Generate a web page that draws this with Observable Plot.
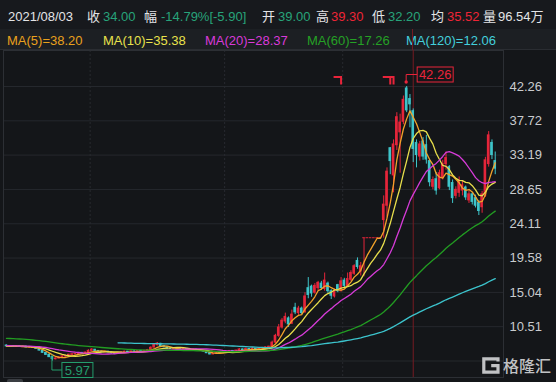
<!DOCTYPE html>
<html><head><meta charset="utf-8">
<script src="https://cdn.jsdelivr.net/npm/d3@7"></script>
<script src="https://cdn.jsdelivr.net/npm/@observablehq/plot@0.6"></script>
<style>
html,body{margin:0;padding:0;background:#141619;}
#wrap{position:relative;width:556px;height:382px;overflow:hidden;font-family:"Liberation Sans","Noto Sans CJK SC",sans-serif;background:#141619;}
#row1{position:absolute;left:0;top:0;width:556px;height:29px;background:#17191d;}
#row2{position:absolute;left:0;top:29px;width:556px;height:20px;background:#1c1f23;border-bottom:1px solid #2a2d32;}
.t{position:absolute;font-size:13px;line-height:17px;white-space:nowrap;color:#e3e4e6;}
#row1 .t{top:8px;}
#row2 .t{top:3px;}
#chart{position:absolute;left:0;top:50px;}
#chart svg{display:block;}
#wm{position:absolute;left:482px;top:356px;height:18px;display:flex;align-items:center;opacity:0.9;}
#wm span{font-family:"Noto Sans CJK SC",sans-serif;font-size:16px;color:#d4d5d7;margin-left:3px;line-height:18px;font-weight:500;}
#thumb{position:absolute;left:7px;top:379px;width:16px;height:5px;border-radius:2px;background:#3a3d42;}
#xhair{position:absolute;top:29px;width:1px;height:21px;background:#761b22;}
</style></head>
<body>
<div id="wrap">
  <div id="row1">
    <span class="t" style="left:8px">2021/08/03</span>
    <span class="t" style="left:87px">收</span><span class="t" style="left:103px;color:#27a37a">34.00</span>
    <span class="t" style="left:144px">幅</span><span class="t" style="left:161px;color:#27a37a">-14.79%[-5.90]</span>
    <span class="t" style="left:262px">开</span><span class="t" style="left:278px;color:#27a37a">39.00</span>
    <span class="t" style="left:316px">高</span><span class="t" style="left:331px;color:#ee2536">39.30</span>
    <span class="t" style="left:372px">低</span><span class="t" style="left:388px;color:#27a37a">32.20</span>
    <span class="t" style="left:431px">均</span><span class="t" style="left:447px;color:#ee2536">35.52</span>
    <span class="t" style="left:483px">量</span><span class="t" style="left:498px">96.54万</span>
  </div>
  <div id="row2"></div>
  <div id="chart"></div>
  <div id="thumb"></div>
  <div id="wm">
    <svg width="18" height="17" viewBox="0 0 18 17"><path d="M16 4.5V1.8H1.8V15.2H16V8.6H9.2" fill="none" stroke="#d4d5d7" stroke-width="3.2"/></svg>
    <span>格隆汇</span>
  </div>
</div>
<script>
// ---- data ----
const priorCloses = [
  8.6,8.5,8.7,8.8,8.6,8.4,8.5,8.3,8.4,8.6,8.5,8.7,8.6,8.8,8.7,8.5,8.6,8.4,8.5,8.6,8.7,8.5,8.4,8.6,8.8,8.9,
  9.0,9.2,9.1,9.4,9.6,9.5,9.8,10.0,9.9,10.2,10.1,9.9,10.3,10.2,10.0,9.8,10.1,9.9,9.7,9.8,9.6,9.5,9.7,9.4,9.6,9.3,9.5,9.2,9.4,9.1,9.2,8.9,9.0,8.8,8.9,8.7,8.6,8.7,8.5,8.4,8.3,
  8.2,8.1,8.2,8.0,8.1,7.9,8.0,8.1,7.9,8.0,7.8,7.9,8.0,7.9,8.1,8.0,7.9,8.0
];
const opens = [
  8.02,7.88,7.95,7.85,7.92,7.80,7.86,7.74,7.82,7.72,
  7.58,7.32,7.05,6.80,6.50,6.20,6.30,6.44,6.56,6.64,
  6.78,6.88,6.90,7.04,6.96,7.06,7.30,7.46,7.30,7.22,
  7.12,7.20,7.12,7.00,6.92,7.02,7.08,7.20,7.14,7.24,
  7.18,7.30,7.22,7.30,7.42,7.74,8.05,8.24,7.92,7.80,
  7.62,7.54,7.62,7.54,7.46,7.56,7.50,7.40,7.46,7.38,
  7.30,7.22,7.00,6.84,6.90,7.00,7.10,7.14,7.20,7.30,
  7.24,7.34,7.50,7.42,7.56,7.48,7.58,7.52,7.60,7.68,
  7.76,7.90,8.40,9.30,10.40,11.20,11.60,10.90,13.00,12.30,
  12.90,12.40,15.60,15.80,15.00,15.60,16.20,15.50,16.20,15.20,
  14.50,16.00,15.20,16.60,15.90,16.70,17.50,19.20,17.80,22.20,
  22.20,22.20,22.20,22.20,22.20,24.60,26.50,34.10,30.50,34.50,
  36.20,37.60,42.00,40.60,39.00,34.80,33.00,35.00,34.50,32.40,
  29.00,30.00,28.80,30.20,32.00,31.60,29.50,27.80,28.20,28.50,
  28.90,27.20,28.00,27.50,26.90,26.30,27.80,32.00,34.80,32.40
];
const highs = [
  8.08,8.02,7.98,7.98,7.95,7.92,7.90,7.86,7.85,7.76,
  7.62,7.38,7.10,6.85,6.55,6.40,6.52,6.65,6.75,6.86,
  6.95,7.00,7.08,7.10,7.15,7.45,7.62,7.50,7.34,7.26,
  7.28,7.24,7.15,7.04,7.10,7.16,7.26,7.24,7.30,7.28,
  7.36,7.34,7.38,7.50,7.85,8.25,8.42,8.30,7.98,7.84,
  7.68,7.70,7.66,7.58,7.62,7.60,7.54,7.52,7.50,7.42,
  7.34,7.25,7.04,6.98,7.06,7.16,7.22,7.26,7.36,7.34,
  7.40,7.62,7.56,7.70,7.62,7.72,7.62,7.68,7.76,7.84,
  7.92,8.60,9.50,10.80,11.60,12.30,11.80,12.70,13.60,13.20,
  13.10,15.00,17.00,16.00,16.20,16.50,16.50,17.60,16.40,15.40,
  15.50,16.10,17.00,16.90,17.60,17.90,18.70,19.60,19.00,22.20,
  22.20,22.20,22.20,22.20,22.20,27.80,31.50,34.20,35.20,38.80,
  38.60,41.00,42.26,41.20,39.30,35.20,35.00,35.50,35.80,32.60,
  30.30,30.90,31.20,32.50,33.60,31.80,29.90,29.00,30.30,29.80,
  29.10,28.40,28.20,27.90,27.20,28.40,32.90,36.30,35.20,33.60
];
const lows = [
  7.85,7.84,7.80,7.82,7.78,7.76,7.72,7.70,7.66,7.52,
  7.30,7.00,6.72,6.42,5.97,6.12,6.25,6.38,6.50,6.60,
  6.74,6.82,6.86,6.90,6.92,7.02,7.25,7.24,7.15,7.08,
  7.08,7.05,6.90,6.82,6.88,6.98,7.04,7.08,7.10,7.12,
  7.14,7.18,7.18,7.26,7.38,7.70,7.98,7.86,7.72,7.55,
  7.50,7.50,7.46,7.40,7.42,7.44,7.35,7.36,7.30,7.24,
  7.16,6.95,6.78,6.80,6.86,6.96,7.04,7.10,7.16,7.18,
  7.20,7.30,7.36,7.38,7.42,7.44,7.46,7.48,7.56,7.64,
  7.72,7.85,8.30,9.10,10.20,10.90,10.40,10.80,12.10,12.00,
  12.10,12.30,14.20,14.40,14.80,15.20,15.30,15.20,14.90,14.10,
  14.30,15.00,15.10,15.60,15.70,16.50,17.30,18.10,17.20,17.10,
  22.20,22.20,22.20,22.20,22.20,22.20,25.00,30.60,28.20,33.80,
  30.80,37.20,38.80,36.80,32.20,31.50,32.40,32.50,32.00,29.00,
  28.60,27.90,28.60,29.90,31.20,28.50,26.80,27.40,27.60,27.80,
  27.20,26.80,26.60,26.20,25.20,25.50,27.60,31.60,32.60,30.60
];
const closes = [
  7.90,7.96,7.86,7.92,7.82,7.86,7.76,7.80,7.70,7.58,
  7.35,7.05,6.78,6.48,6.22,6.30,6.45,6.58,6.62,6.80,
  6.86,6.92,7.02,6.96,7.08,7.32,7.48,7.30,7.22,7.14,
  7.20,7.12,6.98,6.92,7.04,7.10,7.20,7.14,7.24,7.18,
  7.30,7.24,7.32,7.42,7.72,8.10,8.28,7.92,7.80,7.62,
  7.56,7.64,7.52,7.46,7.56,7.50,7.40,7.46,7.36,7.30,
  7.22,7.00,6.84,6.90,7.00,7.10,7.16,7.20,7.30,7.24,
  7.34,7.50,7.42,7.56,7.48,7.58,7.52,7.60,7.70,7.78,
  7.86,8.40,9.30,10.40,11.30,11.80,10.80,12.10,12.40,12.90,
  12.30,14.50,14.70,14.90,15.90,16.30,15.60,16.60,15.20,14.60,
  15.20,15.20,16.50,15.90,16.80,17.60,18.50,18.40,18.50,22.20,
  22.20,22.20,22.20,22.20,22.20,26.64,31.00,32.40,34.60,38.20,
  37.50,40.50,39.10,39.90,34.00,33.20,34.60,33.00,32.60,29.60,
  29.90,28.50,30.80,32.00,32.80,29.00,27.50,28.60,29.80,29.20,
  27.60,28.00,27.00,26.50,25.80,28.00,32.50,35.80,33.20,31.40
];
const maPeriods = [5, 10, 20, 60, 120];
const maLegend = ["MA(5)=38.20", "MA(10)=35.38", "MA(20)=28.37", "MA(60)=17.26", "MA(120)=12.06"];
const yTickLabels = [42.26, 37.72, 33.19, 28.65, 24.11, 19.58, 15.04, 10.51];
const gridValues = [42.26, 37.72, 33.19, 28.65, 24.11, 19.58, 15.04, 10.51, 5.97];
const periodStarts = [26, 67, 103];
const selectedIndex = 124;
const flagIndices = [102, 117, 118];

// ---- styles ----
const UP = "#e5253a", DOWN = "#3ec4c9";
const maColors = ["#f2a22a", "#e8df4c", "#d63bd8", "#229c22", "#3cc4cd"];
const legendColors = ["#e9a11d", "#e9e24c", "#d93ad9", "#25a125", "#43d0dc"];
const legendX = [7, 103, 205, 307, 406];

const row2 = document.getElementById("row2");
maLegend.forEach((t, k) => {
  const s = document.createElement("span");
  s.className = "t"; s.textContent = t;
  s.style.left = legendX[k] + "px"; s.style.color = legendColors[k];
  row2.appendChild(s);
});

const P = priorCloses.length;
const all = priorCloses.concat(closes);
function ma(k, i) { const j = i + P; if (j - k + 1 < 0) return null; return d3.mean(all.slice(j - k + 1, j + 1)); }

const candles = closes.map((c, i) => {
  const o = opens[i], prev = i > 0 ? closes[i - 1] : priorCloses[P - 1];
  return {i, o, h: highs[i], l: lows[i], c, up: c > o || (c === o && c >= prev)};
});
const maRows = closes.map((c, i) => {
  const r = {i};
  maPeriods.forEach(k => r["ma" + k] = ma(k, i));
  return r;
});

const chart = Plot.plot({
  width: 556, height: 332,
  marginLeft: 3, marginRight: 53, marginTop: 0, marginBottom: 5,
  style: {background: "transparent", fontFamily: "Liberation Sans, sans-serif"},
  x: {domain: [-0.915, 151.52], axis: null},
  y: {domain: [5.97, 42.26], range: [310.5, 36], axis: null},
  color: {type: "identity"},
  marks: [
    Plot.ruleY(gridValues, {stroke: "#25282d", strokeWidth: 1}),
    Plot.ruleX(periodStarts, {x: d => d - 0.5, stroke: "#272a2f", strokeDasharray: "2,2"}),
    Plot.frame({stroke: "#2c2f34"}),
    Plot.ruleX([selectedIndex], {stroke: "#761b22", strokeWidth: 1}),
    Plot.ruleX(candles, {x: "i", y1: "l", y2: "h", stroke: d => d.up ? UP : DOWN, strokeWidth: 1}),
    Plot.rect(candles, {x1: d => d.i - 0.4, x2: d => d.i + 0.4, y1: "o", y2: "c",
      fill: d => d.up ? UP : DOWN, insetTop: -0.5, insetBottom: -0.5}),
    ...maPeriods.map((k, n) => Plot.line(maRows, {x: "i", y: "ma" + k, stroke: maColors[n], strokeWidth: 1.3})),
    Plot.axisY(yTickLabels, {anchor: "right", tickSize: 0, tickPadding: 6, label: null,
      tickFormat: d => d.toFixed(2), fontSize: 13, color: "#c9cbce"})
  ]
});
document.getElementById("chart").appendChild(chart);

// ---- annotations positioned with the plot's scales ----
const svg = d3.select(chart);
const sx = chart.scale("x"), sy = chart.scale("y");
const RED = "#e8243a", GREEN = "#249d6c";
const g = svg.append("g").attr("font-family", "Liberation Sans, sans-serif");

// crosshair continues through the MA legend row
const xh = document.createElement("div");
xh.id = "xhair"; xh.style.left = (Math.round(sx.apply(selectedIndex) - 0.5)) + "px";
document.getElementById("wrap").appendChild(xh);

const iMax = d3.maxIndex(highs), vMax = highs[iMax];
{
  const px = sx.apply(iMax), py = sy.apply(vMax);
  g.append("circle").attr("cx", px).attr("cy", py - 4).attr("r", 1.7).attr("fill", RED);
  g.append("path").attr("d", `M${px},${py - 4}V${py - 11.5}H${px + 11}`).attr("stroke", RED).attr("fill", "none");
  g.append("rect").attr("x", px + 11).attr("y", py - 19).attr("width", 36).attr("height", 15)
    .attr("fill", "#141619").attr("stroke", RED);
  g.append("text").attr("x", px + 29).attr("y", py - 11.5).attr("text-anchor", "middle")
    .attr("dominant-baseline", "central").attr("fill", RED).attr("font-size", 13).text(vMax.toFixed(2));
}
const iMin = d3.minIndex(lows), vMin = lows[iMin];
{
  const px = sx.apply(iMin), py = sy.apply(vMin);
  g.append("path").attr("d", `M${px},${py - 6}V${py + 9.5}H${px + 10}`).attr("stroke", GREEN).attr("fill", "none");
  g.append("rect").attr("x", px + 10).attr("y", py + 2).attr("width", 31).attr("height", 15)
    .attr("fill", "#141619").attr("stroke", GREEN);
  g.append("text").attr("x", px + 25.5).attr("y", py + 9.5).attr("text-anchor", "middle")
    .attr("dominant-baseline", "central").attr("fill", GREEN).attr("font-size", 13).text(vMin.toFixed(2));
}
const flagTop = sy.apply(gridValues[0]) - 9;
flagIndices.forEach(i => {
  const px = sx.apply(i);
  g.append("path").attr("d", `M${px - 7},${flagTop}H${px + 0.5}V${flagTop + 7.5}`)
    .attr("stroke", RED).attr("stroke-width", 2).attr("fill", "none");
});
</script>
</body></html>
